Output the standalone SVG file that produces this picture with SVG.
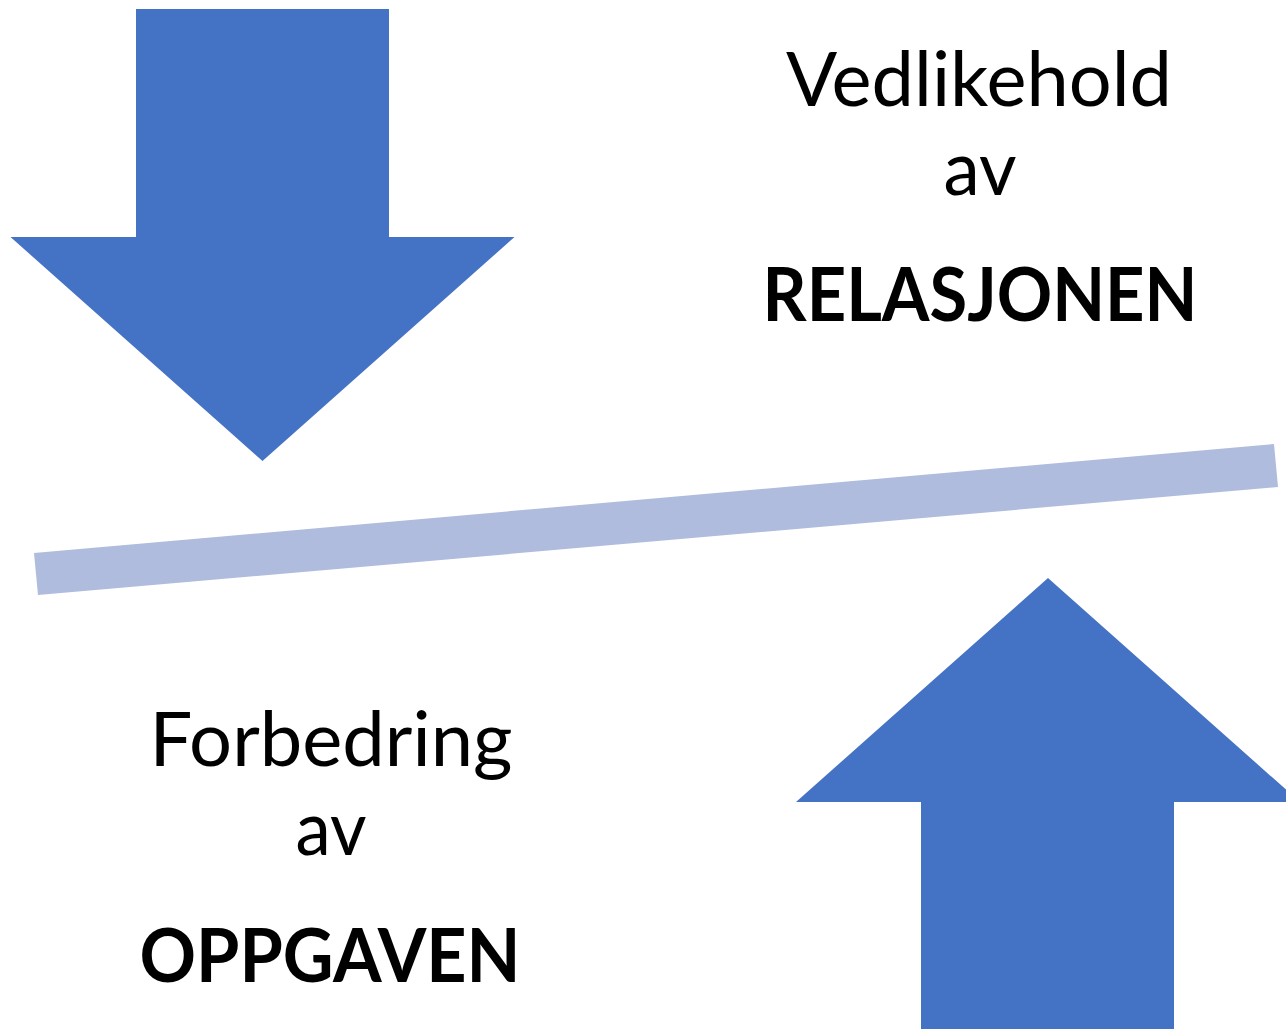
<svg xmlns="http://www.w3.org/2000/svg" width="1286" height="1029" viewBox="0 0 1286 1029">
<style>
.arrow{fill:#4472C4}
.bar{fill:#B0BCDD}
.t{font-family:Lato,"Open Sans","Liberation Sans",sans-serif;font-size:75px;fill:#000;text-anchor:middle}
.b{font-weight:bold}
</style>
<rect width="1286" height="1029" fill="#fff"/>
<g id="connectors">
<polygon id="balance-bar" class="bar" points="34,553 1274,444 1278,487 38,595"/>
</g>
<g id="arrow-down">
<polygon class="arrow" points="136,9 389,9 389,237 514.5,237 262.5,461 10.5,237 136,237"/>
</g>
<g id="arrow-up">
<polygon class="arrow" points="1048,578 1286,789.6 1286,802 1174,802 1174,1029 921,1029 921,802 796,802"/>
</g>
<g id="label-relasjonen">
<text class="t" x="979" y="106" textLength="386" lengthAdjust="spacingAndGlyphs">Vedlikehold</text>
<text class="t" x="980" y="195" textLength="73" lengthAdjust="spacingAndGlyphs">av</text>
<text class="t b" x="980" y="321" textLength="435" lengthAdjust="spacingAndGlyphs">RELASJONEN</text>
</g>
<g id="label-oppgaven">
<text class="t" x="331" y="766" textLength="363" lengthAdjust="spacingAndGlyphs">Forbedring</text>
<text class="t" x="331" y="855" textLength="71" lengthAdjust="spacingAndGlyphs">av</text>
<text class="t b" x="330" y="982" textLength="381" lengthAdjust="spacingAndGlyphs">OPPGAVEN</text>
</g>
</svg>
